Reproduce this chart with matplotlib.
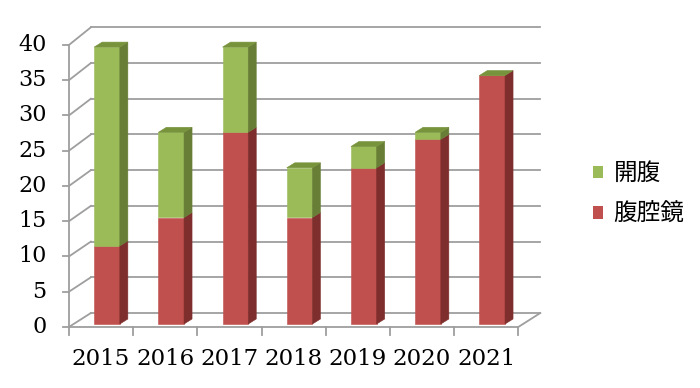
import numpy as np
import matplotlib.pyplot as plt
from matplotlib.patches import Polygon, Patch

years = ['2015', '2016', '2017', '2018', '2019', '2020', '2021']
laparoscopic = [11, 15, 27, 15, 22, 26, 35]   # 腹腔鏡
open_surgery = [28, 12, 12, 7, 3, 1, 0]       # 開腹
yticks = [0, 5, 10, 15, 20, 25, 30, 35, 40]

RED, RED_SIDE = '#C0504D', '#7E2E2C'
GREEN, GREEN_SIDE, GREEN_TOP = '#9BBB59', '#687E36', '#77933C'
GRID = '#9E9E9E'

# pseudo-3d geometry: x in category units, y in value units
PX_X, PX_Y = 64.2, 7.1            # pixels per unit
bar_w = 0.40
side_dx, side_dy = 8 / PX_X, 5 / PX_Y
front_dx, front_dy, front_s = -6 / PX_X, -3 / PX_Y, 0.993
back_dx, back_dy, back_s = 16 / PX_X, 11 / PX_Y, 1.006


def front_y(v):
    return front_dy + front_s * v


def back_y(v):
    return back_dy + back_s * v


fig = plt.figure(figsize=(7, 3.88), dpi=100)
ax = fig.add_axes([0, 0, 1, 1])
ax.set_xlim(-107 / PX_X, (700 - 107) / PX_X)
ax.set_ylim(-(388 - 324) / PX_Y, 324 / PX_Y)
ax.axis('off')

n = len(years)
x = np.arange(n)
fl, fr = -0.5 + front_dx, n - 0.5 + front_dx
bl, br = -0.5 + back_dx, n - 0.5 + back_dx

# back wall + left side wall gridlines
for v in yticks:
    ax.plot([bl, br], [back_y(v), back_y(v)], color=GRID, lw=1.3, zorder=1)
    ax.plot([fl, bl], [front_y(v), back_y(v)], color=GRID, lw=1.3, zorder=1)
    ax.plot([fl - 0.095, fl], [front_y(v), front_y(v)], color=GRID, lw=1.3, zorder=1)
    ax.text(fl - 0.35, front_y(v), str(v), ha='right', va='center',
            fontsize=16, family='DejaVu Serif', color='black')

# floor edges and front axis
ax.plot([fl, fr, br], [front_y(0), front_y(0), back_y(0)], color=GRID, lw=1.3, zorder=1)
ax.plot([fl, fl], [front_y(0), front_y(40)], color=GRID, lw=1.3, zorder=1)
for b in np.arange(n + 1) - 0.5 + front_dx:
    ax.plot([b, b], [front_y(0), front_y(0) - 1.1], color=GRID, lw=1.3, zorder=1)

for i, y in enumerate(years):
    ax.text(i + front_dx, -4.9, y, ha='center', va='center',
            fontsize=16.5, family='DejaVu Serif', color='black')

# bars: front faces
ax.bar(x, laparoscopic, width=bar_w, color=RED, ec=RED, lw=0.4, zorder=3)
ax.bar(x, open_surgery, width=bar_w, bottom=laparoscopic, color=GREEN, ec=GREEN,
       lw=0.4, zorder=3)

# bars: side and top faces
for i in range(n):
    xl, xr = i - bar_w / 2, i + bar_w / 2
    segs = [(0, laparoscopic[i], RED_SIDE),
            (laparoscopic[i], laparoscopic[i] + open_surgery[i], GREEN_SIDE)]
    for b, t, c in segs:
        if t > b:
            ax.add_patch(Polygon([(xr, b), (xr + side_dx, b + side_dy),
                                  (xr + side_dx, t + side_dy), (xr, t)],
                                 closed=True, fc=c, ec=c, lw=0.4, zorder=3))
    top = laparoscopic[i] + open_surgery[i]
    ax.add_patch(Polygon([(xl, top), (xl + side_dx, top + side_dy),
                          (xr + side_dx, top + side_dy), (xr, top)],
                         closed=True, fc=GREEN_TOP, ec=GREEN_TOP, lw=0.4, zorder=3))

handles = [Patch(fc=GREEN, ec='none'), Patch(fc=RED, ec='none')]
fig.legend(handles, ['開腹', '腹腔鏡'], loc='center left', bbox_to_anchor=(0.847, 0.5),
           frameon=False, prop={'family': ['Noto Sans CJK JP', 'DejaVu Sans'], 'size': 17},
           handlelength=0.42, handleheight=0.42, handletextpad=0.45, labelspacing=0.75,
           borderpad=0, borderaxespad=0)

fig.savefig('out.png', dpi=100)
